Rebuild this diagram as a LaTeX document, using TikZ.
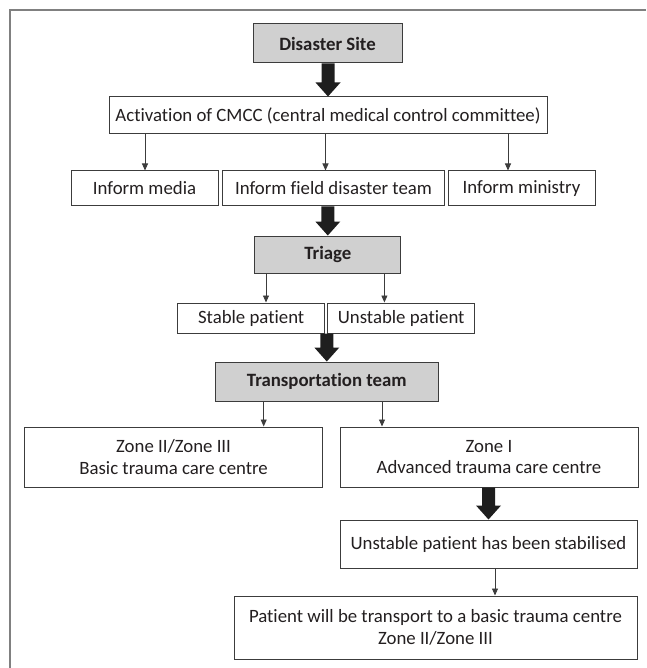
\documentclass[tikz,border=0pt]{standalone}
\usepackage{fontspec}
\setmainfont{Carlito}[Ligatures={NoCommon,NoContextual}]
\usetikzlibrary{arrows.meta,calc}
\definecolor{boxline}{RGB}{60,60,60}
\definecolor{txt}{RGB}{35,31,32}
\definecolor{grayfill}{RGB}{208,208,208}
\definecolor{framecol}{RGB}{128,128,128}
\definecolor{fatcol}{RGB}{30,30,30}
\newcommand{\fatarrow}[2]{%
  \coordinate (fs) at (#2 |- #1);
  \coordinate (fe) at (#2);
  \fill[fatcol] ($(fs)+(-6.5,0)$) -- ($(fs)+(6.5,0)$) -- ($(fe)+(6.5,-14)$) -- ($(fe)+(12.5,-14)$) -- (fe) -- ($(fe)+(-12.5,-14)$) -- ($(fe)+(-6.5,-14)$) -- cycle;}
\begin{document}
\begin{tikzpicture}[x=1pt,y=-1pt,
  box/.style={draw=boxline, line width=1pt, fill=white, inner sep=0pt, align=center, text=txt, font=\fontsize{18.8}{21.5}\selectfont},
  graybox/.style={box, fill=grayfill, font=\fontsize{18.8}{21.5}\selectfont\bfseries},
  thinarrow/.style={draw=boxline, line width=0.9pt, -{Triangle[width=6pt,length=7pt]}},
]
\useasboundingbox (0,0) rectangle (646,668);
\draw[framecol, line width=2pt] (646,10) -- (10,10) -- (10,668);

\node[graybox, minimum width=149pt, minimum height=39pt] (dis) at (327.5,43.5) {Disaster Site};
\node[box, minimum width=438pt, minimum height=37pt] (act) at (328,115.5) {Activation of CMCC (central medical control committee)};
\node[box, minimum width=147pt, minimum height=35pt] (media) at (144.5,188.5) {Inform media};
\node[box, minimum width=222pt, minimum height=35pt] (field) at (333.5,188.5) {Inform field disaster team};
\node[box, minimum width=147pt, minimum height=35pt] (ministry) at (521.5,188.5) {Inform ministry};
\node[graybox, minimum width=146pt, minimum height=37pt] (triage) at (327.8,254.5) {Triage};
\node[box, minimum width=147pt, minimum height=30pt] (stable) at (251.2,318) {Stable patient};
\node[box, minimum width=147pt, minimum height=30pt] (unstable) at (401.2,318) {Unstable patient};
\node[graybox, minimum width=222.5pt, minimum height=39pt] (transport) at (326.8,381.5) {Transportation team};
\node[box, minimum width=298pt, minimum height=60pt] (zonetwo) at (173.6,457) {Zone II/Zone III\\Basic trauma care centre};
\node[box, minimum width=298pt, minimum height=60pt] (zoneone) at (489,457) {Zone I\\Advanced trauma care centre};
\node[box, minimum width=297pt, minimum height=48pt] (stab) at (488.5,544) {Unstable patient has been stabilised};
\node[box, minimum width=403pt, minimum height=63pt] (final) at (435.5,627.5) {Patient will be transport to a basic trauma centre\\Zone II/Zone III};

\coordinate (ca) at (145,0);
\coordinate (cb) at (325.5,0);
\coordinate (cc) at (508,0);
\coordinate (ta) at (266,0);
\coordinate (tb) at (384.4,0);
\coordinate (za) at (263.7,0);
\coordinate (zb) at (382,0);
\coordinate (sa) at (495,0);

\draw[thinarrow] (act.south -| ca) -- (media.north -| ca);
\draw[thinarrow] (act.south -| cb) -- (field.north -| cb);
\draw[thinarrow] (act.south -| cc) -- (ministry.north -| cc);
\draw[thinarrow] (triage.south -| ta) -- (stable.north -| ta);
\draw[thinarrow] (triage.south -| tb) -- (unstable.north -| tb);
\draw[thinarrow] (transport.south -| za) -- (zonetwo.north -| za);
\draw[thinarrow] (transport.south -| zb) -- (zoneone.north -| zb);
\draw[thinarrow] (stab.south -| sa) -- (final.north -| sa);

\fatarrow{dis.south}{act.north}
\fatarrow{field.south}{triage.north}
\fatarrow{stable.south}{transport.north}
\fatarrow{zoneone.south}{stab.north}
\end{tikzpicture}
\end{document}
